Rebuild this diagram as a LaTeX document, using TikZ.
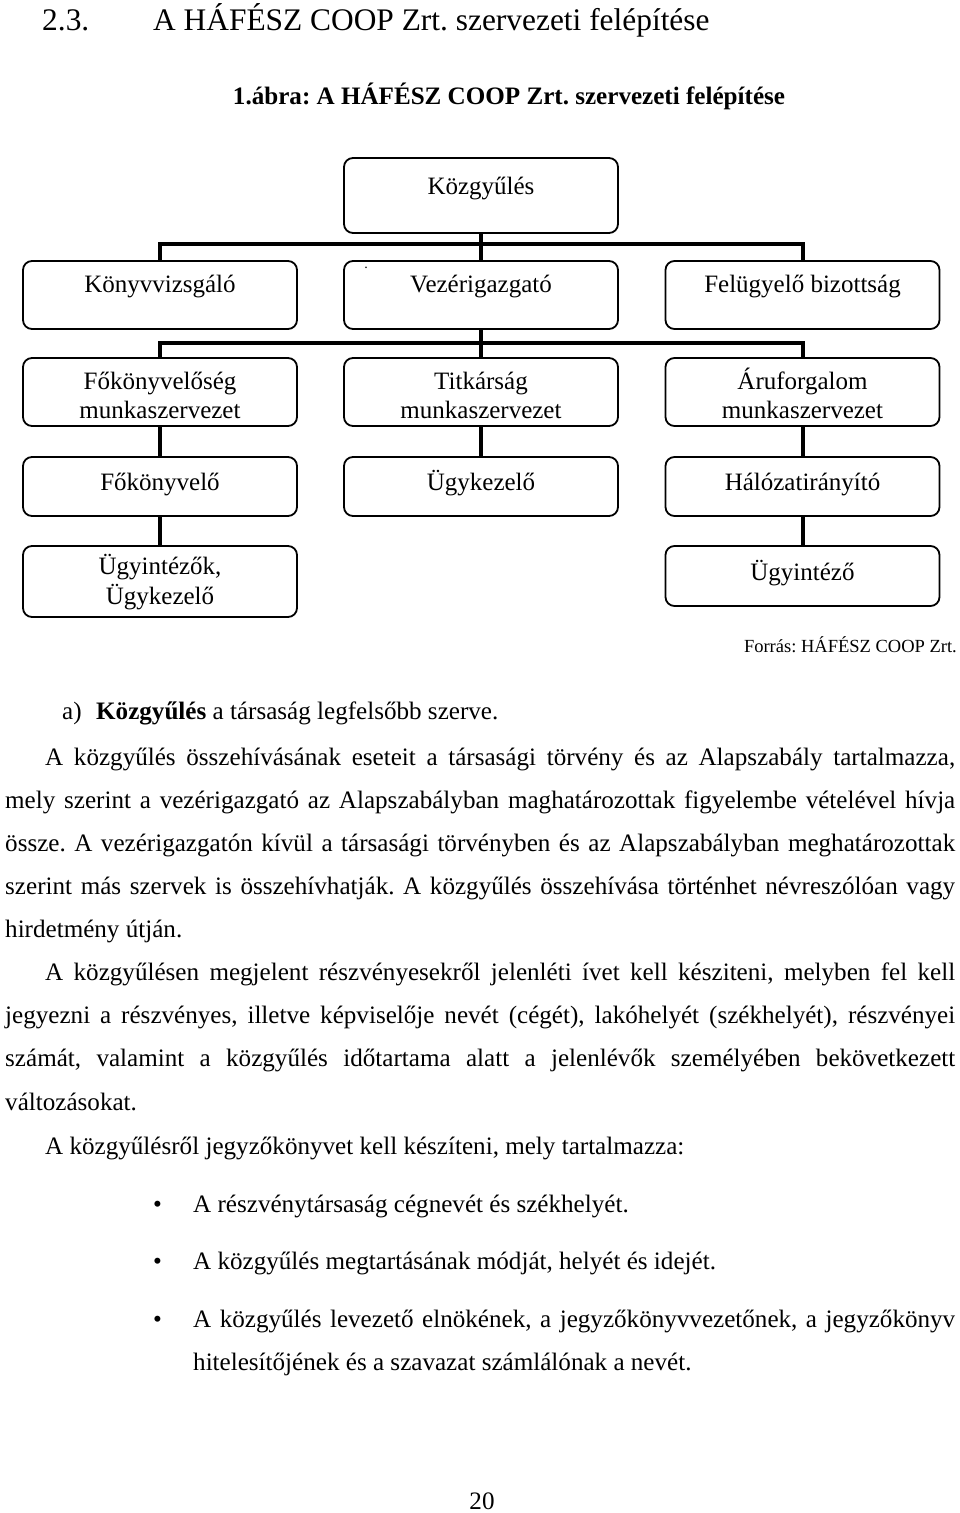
\documentclass[tikz,border=0pt]{standalone}
\usepackage{fontspec}
\setmainfont{Liberation Serif}
\frenchspacing
\begin{document}
\begin{tikzpicture}[x=1pt,y=-1pt,
  box/.style={draw, line width=1.8pt, rounded corners=9pt, minimum width=274pt, inner sep=0pt},
  conn/.style={line width=4pt},
  btxt/.style={font=\fontsize{25}{30}\selectfont, anchor=base, inner sep=0pt},
  ln/.style={font=\fontsize{25.1}{30}\selectfont, anchor=base west, inner sep=0pt},
  hd/.style={font=\fontsize{31.4}{36}\selectfont, anchor=base west, inner sep=0pt}]
\useasboundingbox (0,0) rectangle (960,1513);
% headings
\node[hd] (h1) at (42,30) {2.3.};
\node[hd] (h2) at (153,30) {A HÁFÉSZ COOP Zrt. szervezeti felépítése};
\node[btxt, font=\fontsize{25.1}{30}\selectfont\bfseries] (cap) at (509,104) {1.ábra: A HÁFÉSZ COOP Zrt. szervezeti felépítése};
% boxes
\node[box, minimum height=75pt] (k) at (481,195.5) {};
\node[box, minimum height=68pt] (kv) at (160,295) {};
\node[box, minimum height=68pt] (v) at (481,295) {};
\node[box, minimum height=68pt] (fb) at (802.5,295) {};
\node[box, minimum height=68pt] (fk) at (160,392) {};
\node[box, minimum height=68pt] (tk) at (481,392) {};
\node[box, minimum height=68pt] (af) at (802.5,392) {};
\node[box, minimum height=59pt] (fkv) at (160,486.5) {};
\node[box, minimum height=59pt] (uk) at (481,486.5) {};
\node[box, minimum height=59pt] (hi) at (802.5,486.5) {};
\node[box, minimum height=71pt] (ui1) at (160,581.5) {};
\node[box, minimum height=60pt] (ui2) at (802.5,576) {};
% box texts
\node[btxt] (tk0) at (481,194) {Közgyűlés};
\node[btxt] (tkv) at (160,292) {Könyvvizsgáló};
\node[btxt] (tv) at (481,292) {Vezérigazgató};
\node[inner sep=0pt, font=\fontsize{14}{14}\selectfont] (dot) at (366,268) {.};
\node[btxt] (tfb) at (802.5,292) {Felügyelő bizottság};
\node[btxt] (tfk1) at (160,389) {Főkönyvelőség};
\node[btxt] (tfk2) at (160,418) {munkaszervezet};
\node[btxt] (ttk1) at (481,389) {Titkárság};
\node[btxt] (ttk2) at (481,418) {munkaszervezet};
\node[btxt] (taf1) at (802.5,389) {Áruforgalom};
\node[btxt] (taf2) at (802.5,418) {munkaszervezet};
\node[btxt] (tfkv) at (160,490) {Főkönyvelő};
\node[btxt] (tuk) at (481,490) {Ügykezelő};
\node[btxt] (thi) at (802.5,490) {Hálózatirányító};
\node[btxt] (tui1) at (160,574) {Ügyintézők,};
\node[btxt] (tui1b) at (160,604) {Ügykezelő};
\node[btxt] (tui2) at (802.5,580) {Ügyintéző};
% connectors
\draw[conn] (k.south) -- (v.north);
\draw[conn] (kv.north) -- ++(0,-16) -| (fb.north);
\draw[conn] (v.south) -- (tk.north);
\draw[conn] (fk.north) -- ++(0,-14) -| (af.north);
\draw[conn] (fk.south) -- (fkv.north);
\draw[conn] (tk.south) -- (uk.north);
\draw[conn] (af.south) -- (hi.north);
\draw[conn] (fkv.south) -- (ui1.north);
\draw[conn] (hi.south) -- (ui2.north);
% source
\node[font=\fontsize{18.5}{22}\selectfont, anchor=base east, inner sep=0pt] (src) at (957,652) {Forrás: HÁFÉSZ COOP Zrt.};
% body text
\node[ln] (a0) at (62,719) {a)};
\node[ln] (a1) at (96,719) {\textbf{Közgyűlés} a társaság legfelsőbb szerve.};
\node[ln] (p11) at (45,765) {\makebox[910pt][s]{A közgyűlés összehívásának eseteit a társasági törvény és az Alapszabály tartalmazza,}};
\node[ln] (p12) at (5,808) {\makebox[950pt][s]{mely szerint a vezérigazgató az Alapszabályban maghatározottak figyelembe vételével hívja}};
\node[ln] (p13) at (5,851) {\makebox[950pt][s]{össze. A vezérigazgatón kívül a társasági törvényben és az Alapszabályban meghatározottak}};
\node[ln] (p14) at (5,894) {\makebox[950pt][s]{szerint más szervek is összehívhatják. A közgyűlés összehívása történhet névreszólóan vagy}};
\node[ln] (p15) at (5,937) {hirdetmény útján.};
\node[ln] (p21) at (45,980) {\makebox[910pt][s]{A közgyűlésen megjelent részvényesekről jelenléti ívet kell késziteni, melyben fel kell}};
\node[ln] (p22) at (5,1023) {\makebox[950pt][s]{jegyezni a részvényes, illetve képviselője nevét (cégét), lakóhelyét (székhelyét), részvényei}};
\node[ln] (p23) at (5,1066) {\makebox[950pt][s]{számát, valamint a közgyűlés időtartama alatt a jelenlévők személyében bekövetkezett}};
\node[ln] (p24) at (5,1110) {változásokat.};
\node[ln] (p31) at (45,1154) {A közgyűlésről jegyzőkönyvet kell készíteni, mely tartalmazza:};
\node[ln] (b1) at (153,1212) {•};
\node[ln] (l1) at (193,1212) {A részvénytársaság cégnevét és székhelyét.};
\node[ln] (b2) at (153,1269) {•};
\node[ln] (l2) at (193,1269) {A közgyűlés megtartásának módját, helyét és idejét.};
\node[ln] (b3) at (153,1327) {•};
\node[ln] (l3) at (193,1327) {\makebox[762pt][s]{A közgyűlés levezető elnökének, a jegyzőkönyvvezetőnek, a jegyzőkönyv}};
\node[ln] (l4) at (193,1370) {hitelesítőjének és a szavazat számlálónak a nevét.};
\node[ln, anchor=base] (pg) at (482,1509) {20};
\end{tikzpicture}
\end{document}
